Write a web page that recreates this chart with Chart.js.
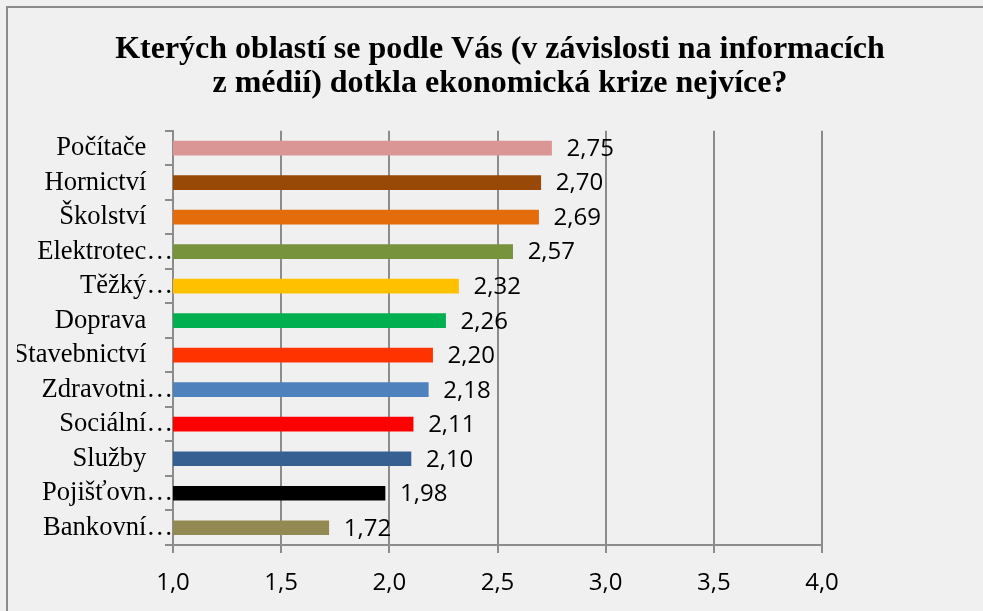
<!DOCTYPE html>
<html>
<head>
<meta charset="utf-8">
<script src="https://cdn.jsdelivr.net/npm/chart.js@4/dist/chart.umd.min.js"></script>
<style>
  html, body { margin: 0; padding: 0; background: #f0f0f0; overflow: hidden; }
  #wrap { position: relative; width: 983px; height: 611px; }
  #frame { position: absolute; left: 6px; top: 6px; width: 990px; height: 620px;
           border-top: 2px solid #8c8c8c; border-left: 2px solid #8c8c8c; box-sizing: border-box; }
  canvas { position: absolute; left: 0; top: 0; }
</style>
</head>
<body>
<div id="wrap">
  <div id="frame"></div>
  <canvas id="c" width="983" height="611"></canvas>
</div>
<script>
const titleLines = ["Kterých oblastí se podle Vás (v závislosti na informacích", "z médií) dotkla ekonomická krize nejvíce?"];
const categories = ["Počítače", "Hornictví", "Školství", "Elektrotec…", "Těžký…", "Doprava", "Stavebnictví", "Zdravotni…", "Sociální…", "Služby", "Pojišťovn…", "Bankovní…"];
const values = [2.75, 2.70, 2.69, 2.57, 2.32, 2.26, 2.20, 2.18, 2.11, 2.10, 1.98, 1.72];
const barColors = ["#d99694", "#984807", "#e46c0a", "#77933c", "#ffc000", "#00b050", "#ff3300", "#4f81bd", "#ff0000", "#376092", "#000000", "#938953"];
const xMin = 1.0, xMax = 4.0, xStep = 0.5;

const fmt = (v, d) => v.toFixed(d).replace('.', ',');

// center the title across the whole frame rather than the padded box
const titleSpan = {
  id: 'titleSpan',
  afterLayout(chart) {
    const t = chart.titleBlock;
    if (t) { t.left = 17; t.right = 983; t.width = 966; }
  }
};

const valueLabels = {
  id: 'valueLabels',
  afterDatasetsDraw(chart) {
    const ctx = chart.ctx;
    const meta = chart.getDatasetMeta(0);
    ctx.save();
    ctx.font = '24px "Open Sans", sans-serif';
    ctx.fillStyle = '#000';
    ctx.textAlign = 'left';
    ctx.textBaseline = 'middle';
    meta.data.forEach((bar, i) => {
      ctx.fillText(fmt(values[i], 2), bar.x + 15, bar.y + 1);
    });
    ctx.restore();
  }
};

new Chart(document.getElementById('c'), {
  type: 'bar',
  data: {
    labels: categories,
    datasets: [{
      data: values,
      backgroundColor: barColors,
      borderWidth: 0,
      barThickness: 14
    }]
  },
  options: {
    responsive: false,
    animation: false,
    indexAxis: 'y',
    layout: { padding: { left: 17, right: 161, top: 0, bottom: 0 } },
    plugins: {
      legend: { display: false },
      tooltip: { enabled: false },
      title: {
        display: true,
        text: titleLines,
        color: '#000',
        font: { family: '"Liberation Serif", "Times New Roman", serif', size: 32, weight: 'bold', lineHeight: 1.06 },
        padding: { top: 33, bottom: 30 }
      }
    },
    scales: {
      x: {
        min: xMin, max: xMax,
        ticks: {
          stepSize: xStep,
          color: '#000',
          font: { family: '"Open Sans", sans-serif', size: 24 },
          padding: 16,
          callback: v => fmt(v, 1)
        },
        grid: { color: '#8c8c8c', lineWidth: 2, tickLength: 8, drawTicks: true },
        border: { color: '#8c8c8c', width: 2 },
        afterFit: s => { s.height = 66; }
      },
      y: {
        ticks: {
          autoSkip: false,
          color: '#000',
          padding: -8,
          font: { family: '"Liberation Serif", "Times New Roman", serif', size: 26.6 },
          callback: function(v, i) {
            const l = categories[i];
            return l.endsWith('…') ? l : l + '\u00a0\u00a0\u00a0\u00a0';
          }
        },
        grid: { drawOnChartArea: false, drawTicks: true, tickLength: 8, color: '#8c8c8c', lineWidth: 2 },
        border: { color: '#8c8c8c', width: 2 },
        afterFit: s => { s.width = 156; }
      }
    }
  },
  plugins: [titleSpan, valueLabels]
});
</script>
</body>
</html>
